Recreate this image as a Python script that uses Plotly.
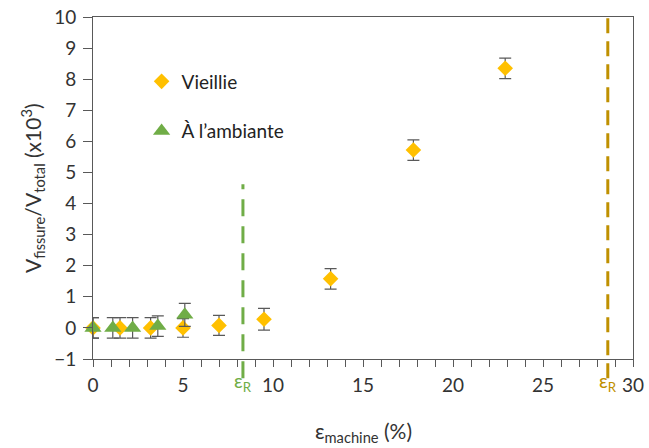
import plotly.graph_objects as go

# Data
vieillie_x = [0, 1.5, 3.2, 5.0, 7.0, 9.5, 13.2, 17.8, 22.9]
vieillie_y = [0.0, 0.0, 0.0, 0.0, 0.08, 0.28, 1.58, 5.72, 8.35]
vieillie_err = [0.33, 0.33, 0.33, 0.3, 0.32, 0.35, 0.33, 0.33, 0.33]

ambiante_x = [0, 1.1, 2.2, 3.6, 5.1]
ambiante_y = [0.0, 0.0, 0.0, 0.06, 0.42]
ambiante_err = [0.33, 0.33, 0.33, 0.33, 0.37]

eps_r_ambiante = 8.33
eps_r_vieillie = 28.6
eps_r_ambiante_top = 4.62

x_ticks = [0, 5, 10, 15, 20, 25, 30]
y_ticks = list(range(-1, 11))

ORANGE = "#FFC000"
GREEN = "#70AD47"
GOLD = "#BF9000"
ERR = "#595959"
FONT = "Lato, Open Sans, sans-serif"
TXT = "#333333"

fig = go.Figure()
fig.add_trace(go.Scatter(
    x=vieillie_x, y=vieillie_y, mode="markers", name="Vieillie",
    legendgroup="v",
    marker=dict(symbol="diamond", size=12, color=ORANGE),
    error_y=dict(type="data", array=vieillie_err, color=ERR, thickness=1.2, width=6),
    cliponaxis=False,
))
fig.add_trace(go.Scatter(
    x=ambiante_x, y=ambiante_y, mode="markers", name="À l’ambiante",
    legendgroup="a",
    marker=dict(symbol="triangle-up", size=15, color=GREEN),
    error_y=dict(type="data", array=ambiante_err, color=ERR, thickness=1.2, width=6),
    cliponaxis=False,
))

ymin, ymax = -1, 10
def yp(v):
    return (v - ymin) / (ymax - ymin)

fig.add_shape(type="line", xref="x", yref="paper",
              x0=eps_r_ambiante, x1=eps_r_ambiante, y0=-0.056, y1=yp(eps_r_ambiante_top),
              line=dict(color=GREEN, width=3, dash="17px,10px"))
fig.add_shape(type="line", xref="x", yref="paper",
              x0=eps_r_vieillie, x1=eps_r_vieillie, y0=-0.056, y1=1,
              line=dict(color=GOLD, width=3, dash="15px,8px"))

for xv, col in [(eps_r_ambiante, GREEN), (eps_r_vieillie, GOLD)]:
    fig.add_annotation(x=xv, xref="x", y=-0.068, yref="paper", text="ε<sub>R</sub>",
                       showarrow=False, font=dict(family=FONT, size=19, color=col),
                       xanchor="center", yanchor="middle")

# axis titles as annotations
fig.add_annotation(x=-0.113, xref="paper", y=0.5, yref="paper",
                   text="V<sub>fissure</sub>/V<sub>total</sub> (x10<sup>3</sup>)",
                   textangle=-90, showarrow=False, xanchor="center", yanchor="middle",
                   font=dict(family=FONT, size=21, color=TXT))
fig.add_annotation(x=0.5, xref="paper", y=-0.213, yref="paper",
                   text="ε<sub>machine</sub> (%)",
                   showarrow=False, xanchor="center", yanchor="middle",
                   font=dict(family=FONT, size=21, color=TXT))

fig.update_layout(
    width=649, height=448,
    margin=dict(l=93, r=16, t=17, b=89, autoexpand=False),
    paper_bgcolor="white", plot_bgcolor="white",
    font=dict(family=FONT, size=17, color=TXT),
    showlegend=True,
    legend=dict(x=0.09, y=0.867, xanchor="left", yanchor="top",
                bgcolor="rgba(0,0,0,0)", font=dict(size=19, color="#222"),
                tracegroupgap=22),
)
fig.update_xaxes(
    range=[0, 30], tickvals=x_ticks, ticks="outside", ticklen=7, tickcolor="#595959",
    showline=True, linecolor="#595959", linewidth=1, mirror=True,
    showgrid=False, zeroline=False, automargin=False, ticklabeloverflow="allow",
    minor=dict(dtick=1, ticks="outside", ticklen=7, tickcolor="#595959"),
    tickfont=dict(size=19, color=TXT), ticklabelstandoff=2,
)
fig.update_yaxes(
    range=[ymin, ymax], tickvals=y_ticks, ticks="outside", ticklen=9, tickcolor="#595959",
    showline=True, linecolor="#595959", linewidth=1, mirror=True,
    showgrid=False, zeroline=False, automargin=False, ticklabeloverflow="allow",
    tickfont=dict(size=19, color=TXT), ticklabelstandoff=3,
)

fig.write_html("out.html", config={"displayModeBar": False},
               post_script="document.body.style.margin='0';")
